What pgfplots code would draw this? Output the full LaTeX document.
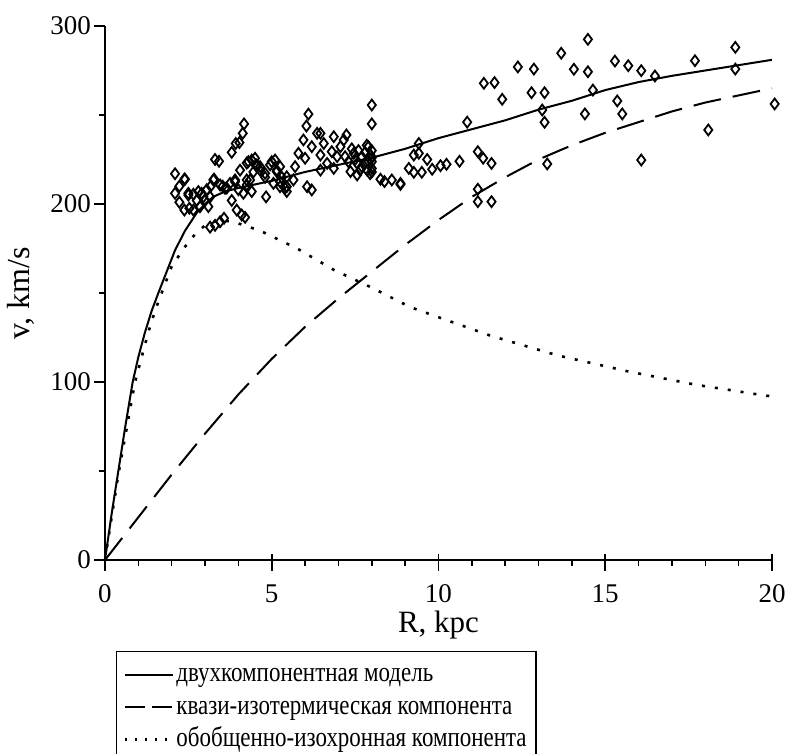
\documentclass[border=0pt]{standalone}
\usepackage{fontspec}
\setmainfont{Liberation Serif}
\newfontfamily\legfont[FakeStretch=0.82]{Liberation Serif}
\usepackage{pgfplots}
\pgfplotsset{compat=1.18}

\pgfplotstableread{
R v
2.1 217
2.38 214
2.23 210
2.1 206
2.23 201
2.38 196.6
2.53 197.6
2.5 206
2.65 205.5
2.75 202
2.9 206
3.0 202
2.85 198.5
3.1 198.5
2.65 196.6
3.15 204
3.05 208
3.27 214
3.17 210
3.3 225
3.42 224
3.53 210
3.65 209
3.8 202
3.9 212.5
3.8 229
3.92 234
4.03 234.5
4.13 239.7
4.17 245
4.0 208
4.15 206
3.95 196.6
4.1 193.8
4.2 192.5
3.15 187
3.3 188
3.45 190
3.57 192
4.25 223
4.4 224.7
4.55 222
4.45 218
4.35 213.5
4.25 210.7
4.65 219
4.8 215
4.83 204
5.0 223.8
5.15 219
5.3 215
5.4 209
5.05 211.6
5.25 209.7
8.0 255.6
8.0 245
6.1 250.5
6.04 243.8
6.86 237.8
7.24 238.8
7.16 236
6.2 207.9
8.26 213.9
8.38 212.6
8.6 213.5
8.86 211
2.4 213.9
2.5 205
2.8 207
2.95 204
3.25 213.5
3.45 210.7
3.6 208.8
3.75 211.6
3.9 213.5
4.05 219
4.3 223.8
4.5 225.7
4.65 221
4.8 217.2
4.95 222
5.1 224.7
5.15 218.2
5.25 212.5
5.45 215.3
5.45 209.7
5.65 213.5
5.7 221
5.8 228.5
5.95 236
6.0 225.7
6.2 232.2
6.36 239.7
6.46 227.5
6.56 234
6.66 222.8
6.8 229.4
6.96 226.6
7.06 232.2
7.2 226.6
7.3 223.8
7.46 228.5
7.56 222.8
7.56 216.3
7.7 226.6
7.8 222.8
7.9 232.2
7.96 227.5
8.0 223.8
8.0 220
7.86 219
7.36 218.2
6.86 220
6.46 219
5.25 221
5.45 207
6.06 209.7
4.25 213.5
4.4 207
4.55 221
6.46 239.7
7.6 230
7.7 221
7.8 229
7.9 224
8.0 230
8.0 226
7.95 217
7.85 233
7.5 225
7.4 231
7.65 219
8.0 218
8.86 211.6
9.11 220
9.26 217.8
9.26 227.5
9.41 228.5
9.41 234
9.66 225
9.5 217.8
9.81 219.5
10.06 221.5
10.24 222.3
10.63 224
10.86 246
11.18 229.4
11.34 225.7
11.59 222.8
11.18 208.3
11.18 201.3
11.59 201.3
11.36 267.8
11.68 268.2
11.91 258.8
12.38 277
12.86 275.8
12.79 262.5
13.18 262.5
13.11 252.8
13.18 245.9
13.26 222.5
13.68 284.7
14.06 275.7
14.48 292.5
14.48 274.3
14.63 264
14.39 250.6
15.29 280.3
15.69 277.7
15.36 257.9
15.51 250.6
16.08 274.9
16.49 271.9
16.08 224.7
17.69 280.5
18.09 241.6
18.9 288
18.9 275.8
20.08 256.2
}\obs

\pgfplotstableread{
R v
0 0
0.2 26
0.4 50
0.6 74
0.83 100
1.0 114
1.2 128
1.4 140
1.6 150
1.85 162
2.1 174
2.4 185
2.75 195
3.0 200
3.24 204
3.6 207
4 209
4.5 211
5 213
6 218
7 222
8 226
9 231
10 237
11 242
12 247
13 253
14 258
15 264
16 268.5
17 272
18 275
19 278
20 281
}\total

\pgfplotstableread{
R v
0 0
1 24
2 48
3 71
4 93
5 113
6 131
7 147
8 162
9 177
10 191
11 204
12 215
13 225
14 233
15 240
16 246
17 252
18 257
19 261
20 265
}\quasi

\pgfplotstableread{
R v
0 0
0.2 24
0.4 48
0.65 74
0.9 100
1.1 114
1.3 128
1.5 140
1.7 150
2.0 165
2.4 176
2.7 183
3.0 188
3.4 191
3.85 190
4.65 185
5.76 175
6.86 163
8 153
9.16 142
10.36 134
11.56 126
13.56 115
15.67 106
17.7 98.5
19.82 92.3
20 92
}\iso

\begin{document}
\begin{tikzpicture}
\begin{axis}[
    at={(0,0)}, anchor=south west,
    width=333.5pt, height=267pt,
    scale only axis,
    axis x line=bottom,
    axis y line=left,
    axis line style={-, line width=1pt},
    xmin=0, xmax=20,
    ymin=0, ymax=300,
    xtick={0,5,10,15,20},
    ytick={0,100,200,300},
    minor ytick={50,150,250},
    ytick align=outside,
    ytick pos=left,
    major tick length=5.5pt,
    minor tick length=3pt,
    every tick/.style={line width=0.8pt, black},
    every minor tick/.style={line width=0.8pt, black},
    ticklabel style={font=\fontsize{13.5}{16}\selectfont},
    xticklabel style={anchor=north, yshift=-6pt},
    yticklabel style={xshift=2pt},
    /pgf/number format/assume math mode=true,
    xlabel={R, kpc},
    ylabel={v, km/s},
    every axis x label/.style={at={([yshift=-36.5pt]axis description cs:0.5,0)},
        anchor=base, font=\fontsize{15.5}{18}\selectfont},
    every axis y label/.style={at={([xshift=-42pt]axis description cs:0,0.5)},
        anchor=center, rotate=90, font=\fontsize{16}{18}\selectfont},
    clip=false,
    after end axis/.code={
        \foreach \t in {0,5,10,15,20}
            \draw[line width=0.8pt] (axis cs:\t,0) -- ++(0pt,-5.5pt);
        \foreach \t in {1,2,3,4,6,7,8,9,11,12,13,14,16,17,18,19}
            \draw[line width=0.8pt] (axis cs:\t,0) -- ++(0pt,-3pt);
    },
    legend cell align=left,
    legend style={at={(axis description cs:0.016,-0.17)}, anchor=north west,
        draw=black, line width=0.8pt, font=\legfont\fontsize{14}{16}\selectfont,
        inner sep=3.5pt, row sep=0pt,
        nodes={inner sep=1.2pt, text height=10.5pt, text depth=3.3pt}},
    legend image code/.code={\draw[#1] (0pt,0pt) -- (24pt,0pt);},
]
\addplot[only marks, mark=diamond, mark size=2.7pt,
    mark options={line width=0.9pt, solid}, forget plot] table {\obs};
\addplot[line width=1pt, black] table {\total};
\addlegendentry{двухкомпонентная модель}
\addplot[line width=1pt, black, dash pattern=on 14pt off 6pt,
    legend image post style={dash pattern=on 10pt off 3.5pt}] table {\quasi};
\addlegendentry{квази-изотермическая компонента}
\addplot[line width=1.3pt, black, dash pattern=on 1.5pt off 5pt,
    legend image post style={dash pattern=on 1.2pt off 3.8pt}] table {\iso};
\addlegendentry{обобщенно-изохронная компонента}
\end{axis}
\pgfresetboundingbox
\path (-52.5pt,-97pt) rectangle (341.5pt,280pt);
\end{tikzpicture}
\end{document}
